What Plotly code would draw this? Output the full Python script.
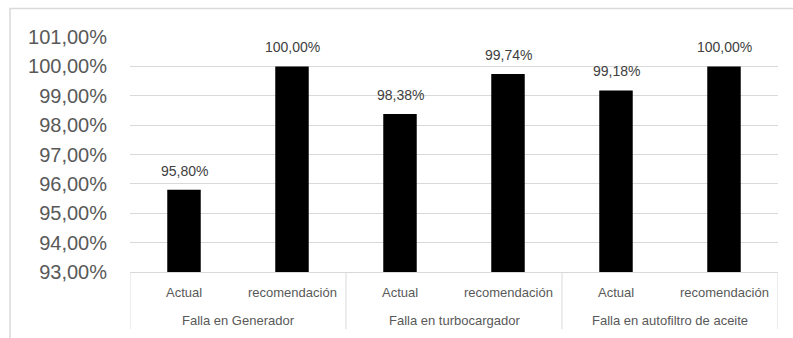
import plotly.graph_objects as go

groups = ["Falla en Generador", "Falla en Generador",
          "Falla en turbocargador", "Falla en turbocargador",
          "Falla en autofiltro de aceite", "Falla en autofiltro de aceite"]
subcats = ["Actual", "recomendación", "Actual", "recomendación", "Actual", "recomendación"]
group_names = ["Falla en Generador", "Falla en turbocargador", "Falla en autofiltro de aceite"]
values = [95.80, 100.00, 98.38, 99.74, 99.18, 100.00]
labels = ["95,80%", "100,00%", "98,38%", "99,74%", "99,18%", "100,00%"]
yticks = [93, 94, 95, 96, 97, 98, 99, 100, 101]
ytick_text = ["93,00%", "94,00%", "95,00%", "96,00%", "97,00%", "98,00%", "99,00%", "100,00%", "101,00%"]

W, H = 793, 338
L, R, T, B = 130, 15, 37, 66
pw = W - L - R
ph = H - T - B

fig = go.Figure()
fig.add_trace(go.Bar(
    x=[groups, subcats], y=values,
    marker=dict(color="#000000", line=dict(width=0)),
    width=0.31, showlegend=False, hoverinfo="skip",
))

for i, (v, t) in enumerate(zip(values, labels)):
    fig.add_annotation(x=i, y=v, text=t, showarrow=False, yanchor="bottom",
                       yshift=9, font=dict(family="Liberation Sans", size=14, color="#404040"))

cat_font = dict(family="Liberation Sans", size=13, color="#595959")
for i, s in enumerate(subcats):
    fig.add_annotation(x=i, xref="x", yref="paper", y=-20 / ph, text=s, showarrow=False,
                       yanchor="middle", font=cat_font)
for g, name in enumerate(group_names):
    fig.add_annotation(x=2 * g + 0.5, xref="x", yref="paper", y=-48 / ph, text=name,
                       showarrow=False, yanchor="middle", font=cat_font)
for xb in [-0.5, 1.5, 3.5, 5.5]:
    fig.add_shape(type="line", xref="x", yref="paper", x0=xb, x1=xb, y0=0, y1=-57 / ph,
                  line=dict(color="#d9d9d9", width=1))

fig.add_shape(type="rect", xref="paper", yref="paper",
              x0=(10 - L) / pw, x1=(W + 20 - L) / pw,
              y0=-(H + 20 - (H - B)) / ph, y1=((H - B) - 8.5) / ph,
              line=dict(color="#d9d9d9", width=1.5), layer="below")

fig.update_layout(
    width=W, height=H,
    margin=dict(l=L, r=R, t=T, b=B, pad=0),
    paper_bgcolor="white", plot_bgcolor="white",
    bargap=0.69,
    xaxis=dict(type="multicategory", showline=True, linecolor="#d9d9d9", linewidth=1,
               showdividers=False, showticklabels=False, ticks="",
               range=[-0.5, 5.5], fixedrange=True),
    yaxis=dict(range=[93, 101], tickvals=yticks, ticktext=ytick_text,
               showgrid=True, gridcolor="#d9d9d9", gridwidth=1, zeroline=False,
               showline=False, ticks="", ticklabelstandoff=22,
               tickfont=dict(family="Liberation Sans", size=20, color="#595959")),
)

fig.write_html("out.html")
